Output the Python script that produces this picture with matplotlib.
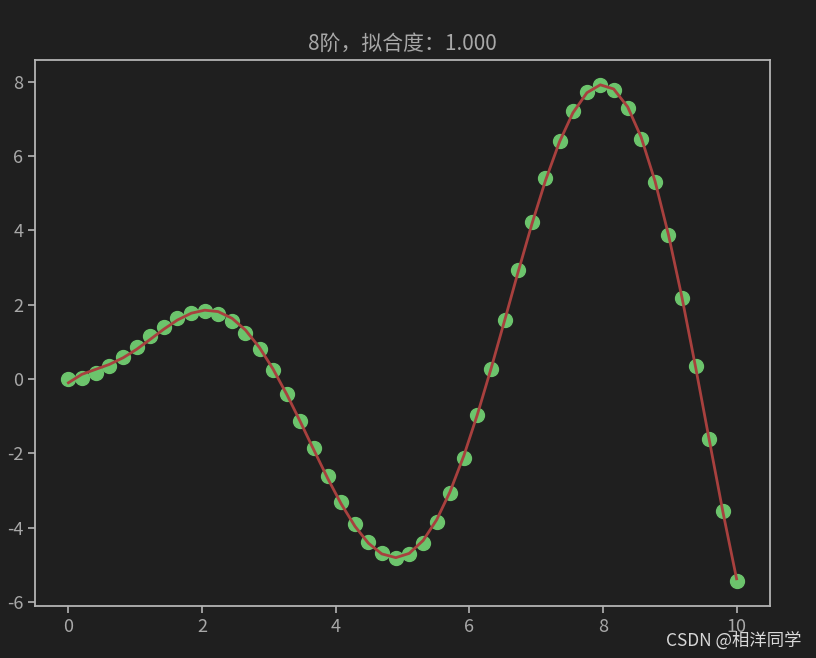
import numpy as np
import matplotlib
matplotlib.use('Agg')
import matplotlib.pyplot as plt

plt.rcParams['font.family'] = ['Noto Sans CJK SC', 'DejaVu Sans']
plt.rcParams['axes.unicode_minus'] = False

# 采样点
x = [0.00, 0.20, 0.41, 0.61, 0.82, 1.02, 1.22, 1.43, 1.63, 1.84,
     2.04, 2.24, 2.45, 2.65, 2.86, 3.06, 3.27, 3.47, 3.67, 3.88,
     4.08, 4.29, 4.49, 4.69, 4.90, 5.10, 5.31, 5.51, 5.71, 5.92,
     6.12, 6.33, 6.53, 6.73, 6.94, 7.14, 7.35, 7.55, 7.76, 7.96,
     8.16, 8.37, 8.57, 8.78, 8.98, 9.18, 9.39, 9.59, 9.80, 10.00]
y = [0.00, 0.04, 0.16, 0.35, 0.59, 0.87, 1.15, 1.41, 1.63, 1.77,
     1.82, 1.75, 1.56, 1.25, 0.80, 0.25, -0.40, -1.12, -1.86, -2.60,
     -3.30, -3.90, -4.38, -4.69, -4.81, -4.72, -4.40, -3.85, -3.08, -2.12,
     -0.98, 0.27, 1.60, 2.94, 4.23, 5.41, 6.42, 7.21, 7.72, 7.91,
     7.78, 7.29, 6.46, 5.30, 3.87, 2.19, 0.35, -1.60, -3.56, -5.44]
deg = 8

x = np.array(x)
y = np.array(y)
p = np.polyfit(x, y, deg)
yfit = np.polyval(p, x)
r2 = 1 - np.sum((y - yfit)**2) / np.sum((y - y.mean())**2)

bg = '#1f1f1f'
fg = '#a8a8a8'
fig = plt.figure(figsize=(8.16, 6.58), dpi=100, facecolor=bg)
ax = fig.add_axes([35/816, 1 - 606/658, 735/816, 546/658], facecolor=bg)

ax.scatter(x, y, s=100, color='#6cc46c', zorder=2)
ax.plot(x, yfit, color='#a8403e', lw=2, zorder=3)

ax.set_title('%d阶，拟合度：%.3f' % (deg, r2), color=fg, fontsize=15, pad=7)
for s in ax.spines.values():
    s.set_color('#b4b4b4')
    s.set_linewidth(1.3)
ax.tick_params(colors='#b4b4b4', labelcolor=fg, labelsize=13, length=5, width=1.2)

# 水印
fig.text(0.982, 0.012, 'CSDN @相洋同学', color='#d8d8d8', fontsize=12.5, ha='right', va='bottom')

fig.savefig('out.png', dpi=100, facecolor=bg)
